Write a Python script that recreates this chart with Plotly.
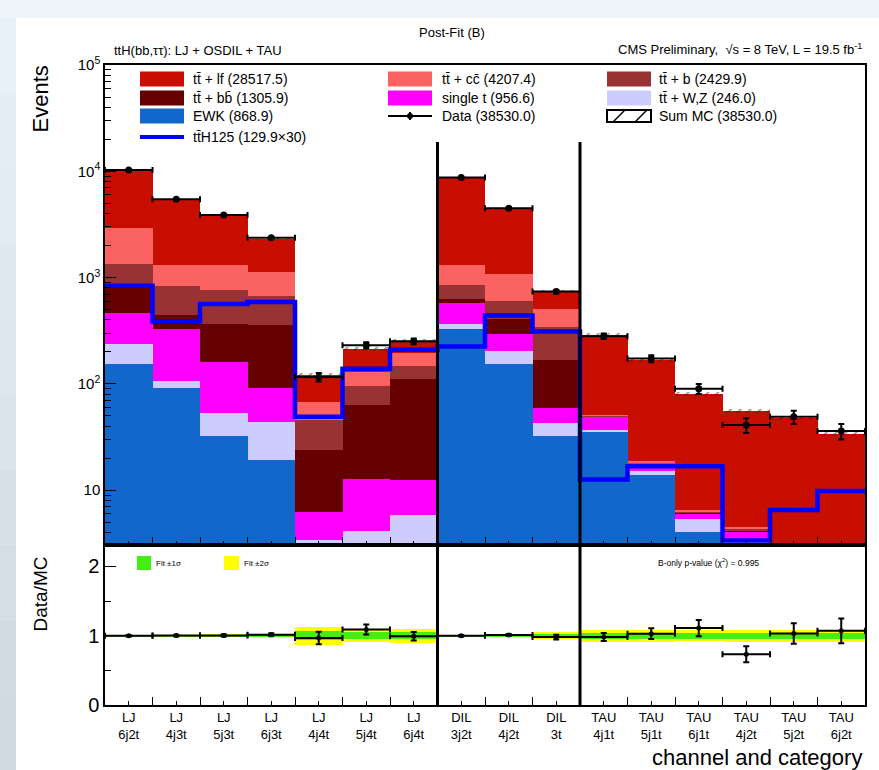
import numpy as np
import plotly.graph_objects as go
from plotly.subplots import make_subplots

# ---- categories (channel / jet-tag bins) ----
categories = ["LJ<br>6j2t", "LJ<br>4j3t", "LJ<br>5j3t", "LJ<br>6j3t", "LJ<br>4j4t", "LJ<br>5j4t",
              "LJ<br>6j4t", "DIL<br>3j2t", "DIL<br>4j2t", "DIL<br>3t", "TAU<br>4j1t", "TAU<br>5j1t",
              "TAU<br>6j1t", "TAU<br>4j2t", "TAU<br>5j2t", "TAU<br>6j2t"]

# ---- post-fit background yields per category ----
ewk      = [154, 91, 32.5, 19.2, 2.0, 1.5, 2.0, 330, 154, 32.5, 36, 13.8, 4.07, 2.5, 1.5, 1.2]
ttwz     = [81, 16, 20.5, 24.8, 1.37, 2.6, 3.9, 36, 48, 10.5, 1.0, 1.3, 1.3, 0.9, 0.5, 0.5]
single_t = [230, 221, 106, 48, 2.93, 8.6, 6.5, 209, 94, 16, 12.5, 3.0, 0.7, 0.7, 0.5, 0.6]
ttbb     = [335, 117, 207, 263, 17.5, 50.3, 98.6, 55, 112, 109, 0.2, 0.1, 0.1, 0.1, 0.1, 0.1]
ttb      = [550, 395, 404, 312, 22.2, 33, 37, 230, 189, 172, 0.3, 0.2, 0.1, 0.1, 0.1, 0.1]
ttcc     = [1550, 480, 530, 453, 22, 33, 49, 440, 488, 170, 0.5, 0.3, 0.2, 0.2, 0.2, 0.2]
ttlf     = [7400, 4130, 2550, 1210, 52, 83, 57, 7420, 3365, 243, 235.5, 149.3, 74.5, 51.5, 44.6, 30.9]

# ---- observed data and its uncertainty ----
data     = [10300, 5460, 3870, 2365, 116, 231, 252, 8730, 4495, 738, 281, 173, 90, 41, 49, 36]
data_err = [101, 74, 62, 49, 10.8, 15.2, 15.9, 93, 67, 27, 16.8, 13.2, 9.5, 6.4, 7.0, 6.0]

# ---- signal (ttH, mH = 125 GeV) scaled x30 ----
tth_x30  = [840, 387, 565, 590, 49, 139, 209, 225, 440, 311, 12.6, 16.8, 16.8, 3.37, 6.5, 9.8]

# ---- relative post-fit uncertainty (1 sigma) ----
fit_sigma = [0.008, 0.008, 0.01, 0.012, 0.065, 0.048, 0.05, 0.008, 0.01, 0.025,
             0.043, 0.043, 0.04, 0.045, 0.045, 0.043]

stack = [
    ("EWK (868.9)", ewk, "#1267cb"),
    ("tt\u0304 + W,Z (246.0)", ttwz, "#ccccff"),
    ("single t (956.6)", single_t, "#ff00ff"),
    ("tt\u0304 + bb\u0304 (1305.9)", ttbb, "#660000"),
    ("tt\u0304 + b (2429.9)", ttb, "#993333"),
    ("tt\u0304 + cc\u0304 (4207.4)", ttcc, "#fb6262"),
    ("tt\u0304 + lf (28517.5)", ttlf, "#c80e00"),
]

FONT = "Liberation Sans, Arial, Helvetica, sans-serif"
n = len(categories)
xc = np.arange(n)
mc_total = np.sum([np.array(v, dtype=float) for _, v, _ in stack], axis=0)
data_a = np.array(data, dtype=float)
err_a = np.array(data_err, dtype=float)
sig = np.array(fit_sigma)
ratio = data_a / mc_total
ratio_err = err_a / mc_total

W, H = 879, 770
L, R, T, B = 105, 14, 65, 65
PW, PH = W - L - R, H - T - B


def px(xp):
    return (xp - L) / PW


def py(yp):
    return (H - B - yp) / PH


fig = make_subplots(rows=2, cols=1, shared_xaxes=True, vertical_spacing=0,
                    row_heights=[0.75, 0.25])

# stacked backgrounds
for name, vals, col in stack:
    fig.add_trace(go.Bar(x=xc, y=vals, width=1, marker=dict(color=col, line=dict(width=0)),
                         name=name, showlegend=False), row=1, col=1)

# hatched MC uncertainty
fig.add_trace(go.Bar(x=xc, y=2 * sig * mc_total, base=mc_total * (1 - sig), width=1,
                     marker=dict(color="rgba(0,0,0,0)", line=dict(width=0),
                                 pattern=dict(shape="/", fgcolor="#222", size=7, solidity=0.25,
                                              fillmode="overlay")),
                     showlegend=False), row=1, col=1)

# signal step line
edges = np.arange(n + 1) - 0.5
fig.add_trace(go.Scatter(x=edges, y=list(tth_x30) + [tth_x30[-1]], mode="lines",
                         line=dict(color="#0000ff", width=4.5, shape="hv"),
                         showlegend=False), row=1, col=1)

# data
fig.add_trace(go.Scatter(x=xc, y=data, mode="markers",
                         marker=dict(color="black", size=7),
                         error_x=dict(type="constant", value=0.5, thickness=2, width=3, color="black"),
                         error_y=dict(type="data", array=data_err, thickness=2, width=3, color="black"),
                         showlegend=False), row=1, col=1)

# ratio bands
fig.add_trace(go.Bar(x=xc, y=4 * sig, base=1 - 2 * sig, width=1,
                     marker=dict(color="#ffff00", line=dict(width=0)), showlegend=False),
              row=2, col=1)
fig.add_trace(go.Bar(x=xc, y=2 * sig, base=1 - sig, width=1,
                     marker=dict(color="#44ee11", line=dict(width=0)), showlegend=False),
              row=2, col=1)

fig.add_trace(go.Scatter(x=xc, y=ratio, mode="markers",
                         marker=dict(color="black", size=5),
                         error_x=dict(type="constant", value=0.5, thickness=2, width=3, color="black"),
                         error_y=dict(type="data", array=ratio_err, thickness=2, width=3, color="black"),
                         showlegend=False), row=2, col=1)

fig.update_layout(barmode="stack", bargap=0, width=W, height=H,
                  margin=dict(l=L, r=R, t=T, b=B),
                  paper_bgcolor="#eef4f8", plot_bgcolor="white",
                  font=dict(family=FONT, color="black"))

ax_common = dict(range=[-0.5, n - 0.5], showline=True, linecolor="black", linewidth=1.5,
                 mirror=True, showgrid=False, zeroline=False,
                 tickvals=list(xc), ticks="inside", ticklen=4, tickwidth=1.2, tickcolor="black",
                 minor=dict(tickvals=list(edges), ticks="inside", ticklen=8, tickwidth=1.2,
                            tickcolor="black"))
fig.update_xaxes(**ax_common, showticklabels=False, row=1, col=1)
fig.update_xaxes(**ax_common, ticktext=categories, showticklabels=True, ticklabelstandoff=0,
                 tickfont=dict(size=13, family=FONT), row=2, col=1)

main_minor = [m * 10 ** e for e in range(0, 5) for m in range(2, 10)]
fig.update_yaxes(type="log", range=[np.log10(3.05), 5], domain=[0.25, 1],
                 showline=True, linecolor="black", linewidth=1.5, mirror=True,
                 showgrid=False, zeroline=False,
                 tickvals=[10, 100, 1000, 1e4, 1e5],
                 ticktext=["10", "10<sup>2</sup>", "10<sup>3</sup>", "10<sup>4</sup>", "10<sup>5</sup>"],
                 ticks="inside", ticklen=11, tickwidth=1.2, tickcolor="black",
                 tickfont=dict(size=15, family=FONT),
                 minor=dict(tickvals=main_minor, ticks="inside", ticklen=6, tickwidth=1.2,
                            tickcolor="black"),
                 row=1, col=1)
fig.update_yaxes(range=[0, 2.31], domain=[0, 0.25],
                 showline=True, linecolor="black", linewidth=1.5, mirror=True,
                 showgrid=False, zeroline=False,
                 tickvals=[0, 1, 2], ticks="inside", ticklen=11, tickwidth=1.2, tickcolor="black",
                 tickfont=dict(size=20, family=FONT),
                 minor=dict(tickvals=[0.5, 1.5], ticks="inside", ticklen=6, tickwidth=1.2,
                            tickcolor="black"),
                 row=2, col=1)

shapes = []
# white canvas with a soft bluish margin on the left
shapes.append(dict(type="rect", xref="paper", yref="paper", x0=px(16), x1=px(W + 2),
                   y0=py(H + 2), y1=py(18), fillcolor="white", line=dict(width=0), layer="below"))
for i in range(10):
    y0p, y1p = 18 + i * (H - 18) / 10, 18 + (i + 1) * (H - 18) / 10
    c = int(246 - i * 2.6)
    shapes.append(dict(type="rect", xref="paper", yref="paper", x0=px(-2), x1=px(16),
                       y0=py(y1p), y1=py(y0p), fillcolor=f"rgb({c - 14},{c - 6},{min(c + 2, 250)})",
                       line=dict(width=0), layer="below"))

# channel separators
for xs in (6.5, 9.5):
    shapes.append(dict(type="line", xref="x", yref="paper", x0=xs, x1=xs, y0=0, y1=py(142),
                       line=dict(color="black", width=3)))

annotations = []


def text(xp, yp, s, size, xanchor="left", yanchor="middle", **kw):
    annotations.append(dict(xref="paper", yref="paper", x=px(xp), y=py(yp), text=s,
                            showarrow=False, xanchor=xanchor, yanchor=yanchor,
                            font=dict(size=size, family=FONT, color="black"), **kw))


# legend (three columns)
col_sw = [140, 388, 607]
col_tx = [191, 440, 657]
rows_y = [79, 98, 116, 137]
legend_items = [
    (0, 0, "box", "#c80e00", "tt\u0304 + lf (28517.5)"),
    (1, 0, "box", "#fb6262", "tt\u0304 + cc\u0304 (4207.4)"),
    (2, 0, "box", "#993333", "tt\u0304 + b (2429.9)"),
    (0, 1, "box", "#660000", "tt\u0304 + bb\u0304 (1305.9)"),
    (1, 1, "box", "#ff00ff", "single t (956.6)"),
    (2, 1, "box", "#ccccff", "tt\u0304 + W,Z (246.0)"),
    (0, 2, "box", "#1267cb", "EWK (868.9)"),
    (1, 2, "data", "black", "Data (38530.0)"),
    (2, 2, "hatch", "black", "Sum MC (38530.0)"),
    (0, 3, "line", "#0000ff", "tt\u0304H125 (129.9\u00d730)"),
]
for c, r, kind, colr, label in legend_items:
    x0, x1 = col_sw[c], col_sw[c] + 44
    yc = rows_y[r]
    if kind == "box":
        shapes.append(dict(type="rect", xref="paper", yref="paper", x0=px(x0), x1=px(x1),
                           y0=py(yc + 7.5), y1=py(yc - 7.5), fillcolor=colr, line=dict(width=0)))
    elif kind == "line":
        shapes.append(dict(type="line", xref="paper", yref="paper", x0=px(x0), x1=px(x1),
                           y0=py(yc), y1=py(yc), line=dict(color=colr, width=4)))
    elif kind == "data":
        shapes.append(dict(type="line", xref="paper", yref="paper", x0=px(x0), x1=px(x1),
                           y0=py(yc), y1=py(yc), line=dict(color="black", width=2)))
        shapes.append(dict(type="line", xref="paper", yref="paper", x0=px(x0 + 22), x1=px(x0 + 22),
                           y0=py(yc + 4), y1=py(yc - 4), line=dict(color="black", width=2)))
        shapes.append(dict(type="circle", xref="paper", yref="paper", x0=px(x0 + 19), x1=px(x0 + 25),
                           y0=py(yc + 3), y1=py(yc - 3), fillcolor="black", line=dict(width=0)))
    else:
        shapes.append(dict(type="rect", xref="paper", yref="paper", x0=px(x0), x1=px(x1),
                           y0=py(yc + 6), y1=py(yc - 6), fillcolor="white",
                           line=dict(color="black", width=2)))
        for dx in (6, 28):
            shapes.append(dict(type="line", xref="paper", yref="paper", x0=px(x0 + dx), x1=px(x0 + dx + 12),
                               y0=py(yc + 6), y1=py(yc - 6), line=dict(color="black", width=1.5)))
    text(col_tx[c], yc, label, 14)

# ratio-panel legend
shapes.append(dict(type="rect", xref="paper", yref="paper", x0=px(137), x1=px(151),
                   y0=py(570), y1=py(556), fillcolor="#44ee11", line=dict(width=0)))
shapes.append(dict(type="rect", xref="paper", yref="paper", x0=px(224), x1=px(239),
                   y0=py(570), y1=py(556), fillcolor="#ffff00", line=dict(width=0)))
text(154, 563, "Fit \u00b11\u03c3", 8)
text(242, 563, "Fit \u00b12\u03c3", 8)
text(708, 562, "B-only p-value (\u03c7<sup>2</sup>) = 0.995", 8.5, xanchor="center")

# titles
text(452, 32, "Post-Fit (B)", 13, xanchor="center")
text(112, 50, "ttH(bb,\u03c4\u03c4): LJ + OSDIL + TAU", 13)
text(864, 49, "CMS Preliminary,  \u221as = 8 TeV, L = 19.5 fb<sup>-1</sup>", 13, xanchor="right")
text(40, 64, "Events", 22, xanchor="center", yanchor="top", textangle=-90)
text(40, 555, "Data/MC", 19, xanchor="center", yanchor="top", textangle=-90)
text(864, 757, "channel and category", 22, xanchor="right")

fig.update_layout(shapes=shapes, annotations=annotations)
fig.write_html("out.html")
